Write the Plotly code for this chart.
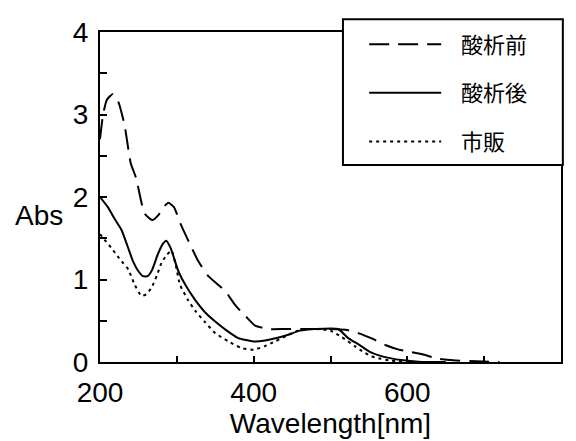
import plotly.graph_objects as go

# --- data ---
wl_before = [200, 204, 209, 217, 224, 232, 240, 247, 258, 268, 276, 283, 289, 296, 306, 317, 328, 341, 352, 363,
             376, 390, 402, 419, 440, 470, 500, 520, 536, 555, 573, 589, 605, 621, 640, 660, 690, 720]
abs_before = [2.70, 3.00, 3.18, 3.25, 3.15, 2.87, 2.41, 2.23, 1.80, 1.72, 1.78, 1.88, 1.93, 1.88, 1.65, 1.43, 1.22, 1.04, 0.95, 0.86,
              0.69, 0.55, 0.44, 0.40, 0.40, 0.40, 0.40, 0.39, 0.35, 0.28, 0.20, 0.15, 0.12, 0.09, 0.04, 0.02, 0.01, 0.0]

wl_after = [200, 210, 220, 228, 236, 243, 250, 256, 262, 268, 275, 281, 286, 292, 302, 312, 324, 337, 350, 365,
            380, 400, 415, 430, 445, 460, 480, 510, 523, 537, 550, 563, 576, 595, 619, 650]
abs_after = [2.00, 1.88, 1.72, 1.60, 1.40, 1.22, 1.10, 1.04, 1.04, 1.12, 1.30, 1.42, 1.47, 1.38, 1.10, 0.92, 0.75, 0.60, 0.49, 0.38,
             0.29, 0.25, 0.26, 0.29, 0.33, 0.38, 0.40, 0.40, 0.29, 0.21, 0.13, 0.08, 0.05, 0.02, 0.0, 0.0]

wl_comm = [200, 206, 215, 223, 230, 237, 245, 254, 260, 267, 274, 280, 287, 293, 298, 304, 314, 324, 337, 350,
           367, 384, 400, 414, 428, 443, 458, 480, 500, 515, 532, 543, 553, 565, 576, 600]
abs_comm = [1.55, 1.48, 1.38, 1.28, 1.20, 1.12, 0.94, 0.80, 0.82, 0.90, 1.05, 1.20, 1.30, 1.35, 1.20, 0.94, 0.76, 0.62, 0.48, 0.35,
            0.25, 0.17, 0.15, 0.19, 0.25, 0.32, 0.38, 0.40, 0.38, 0.30, 0.19, 0.12, 0.07, 0.04, 0.02, 0.0]

series_names = ["酸析前", "酸析後", "市販"]

x_tickvals = [200, 300, 400, 500, 600, 700, 800]
x_ticktext = ["200", "", "400", "", "600", "", "800"]
y_tickvals = [0, 0.5, 1, 1.5, 2, 2.5, 3, 3.5, 4]
y_ticktext = ["0", "", "1", "", "2", "", "3", "", "4"]

SANS = "Liberation Sans, Arial, sans-serif"
CJK = "Noto Sans CJK JP, sans-serif"
PAD = "\u00a0\u00a0\u00a0"  # gap between legend sample and label

fig = go.Figure()
fig.add_trace(go.Scatter(x=wl_before, y=abs_before, mode="lines", name=PAD + series_names[0], legendgroup="g0",
                         line=dict(color="black", width=2, dash="20px,9px", shape="spline", smoothing=0.5)))
fig.add_trace(go.Scatter(x=wl_after, y=abs_after, mode="lines", name=PAD + series_names[1], legendgroup="g1",
                         line=dict(color="black", width=2, shape="spline", smoothing=0.5)))
fig.add_trace(go.Scatter(x=wl_comm, y=abs_comm, mode="lines", name=PAD + series_names[2], legendgroup="g2",
                         line=dict(color="black", width=2, dash="3px,4px", shape="spline", smoothing=0.5)))

# plot area: x 92..553 px, y 24..354 px
fig.update_layout(
    width=576, height=441,
    margin=dict(l=92, r=23, t=24, b=87, autoexpand=False),
    paper_bgcolor="white", plot_bgcolor="white",
    font=dict(family=SANS, color="black"),
    showlegend=True,
    legend=dict(
        x=0.573, y=1.026, xanchor="left", yanchor="top",
        borderwidth=0, bgcolor="rgba(0,0,0,0)",
        font=dict(family=CJK, size=22, color="black"),
        itemwidth=72, tracegroupgap=17,
        traceorder="grouped",
    ),
    # legend frame (opaque box overlapping the top frame line)
    shapes=[dict(type="rect", xref="paper", yref="paper",
                 x0=0.527, x1=1.004, y0=0.597, y1=1.039,
                 line=dict(color="black", width=2), fillcolor="white", layer="above")],
    xaxis=dict(
        range=[200, 800], tickmode="array", tickvals=x_tickvals, ticktext=x_ticktext,
        ticks="inside", ticklen=6, tickwidth=1.5, tickcolor="black",
        showline=True, linecolor="black", linewidth=2, mirror=True,
        showgrid=False, zeroline=False, ticklabelstandoff=4,
        tickfont=dict(family=SANS, size=28),
        title=dict(text="Wavelength[nm]", font=dict(family=SANS, size=28), standoff=0),
    ),
    yaxis=dict(
        range=[0, 4], tickmode="array", tickvals=y_tickvals, ticktext=y_ticktext,
        ticks="inside", ticklen=7, tickwidth=1.5, tickcolor="black",
        showline=True, linecolor="black", linewidth=2, mirror=True,
        showgrid=False, zeroline=False, ticklabelstandoff=4,
        tickfont=dict(family=SANS, size=28),
    ),
    annotations=[dict(text="Abs", xref="paper", yref="y", x=-0.075, y=1.78,
                      xanchor="right", yanchor="middle", showarrow=False,
                      font=dict(family=SANS, size=28, color="black"))],
)

fig.write_html("out.html")
